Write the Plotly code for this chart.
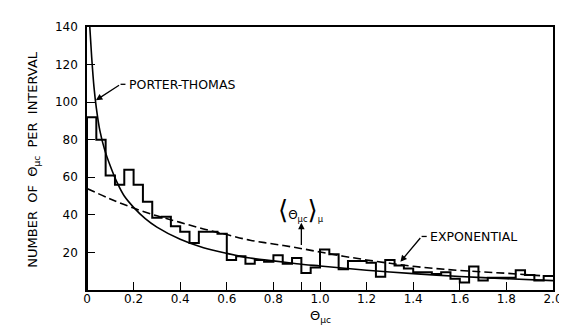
import plotly.graph_objects as go

# ---- data ----
bin_width = 0.04
counts = [92, 80, 61, 56, 64, 56, 47, 38.5, 39, 34,
          31, 25, 31, 31, 30, 16, 18, 14, 16, 15,
          18.5, 14, 17, 9, 12, 21.5, 19, 11, 15.5, 15.5,
          14.5, 7, 16, 13, 11.5, 9.5, 9.5, 8.5, 9.5, 6,
          4, 12.5, 5, 6.5, 6.5, 6.5, 10.5, 8, 5, 7.5]

pt_x = [0.012, 0.02, 0.03, 0.04, 0.055, 0.075, 0.1, 0.13, 0.16, 0.2, 0.25, 0.3,
        0.4, 0.5, 0.6, 0.7, 0.8, 0.9, 1.0, 1.2, 1.4, 1.6, 1.8, 2.0]
pt_y = [140, 124, 108, 97, 85, 75, 66, 57, 50, 44, 38, 33.5,
        27, 22.5, 19.5, 17, 15.5, 14, 12.8, 10.5, 8.7, 7.2, 6, 5]

exp_x = [0, 0.1, 0.2, 0.3, 0.4, 0.5, 0.6, 0.7, 0.8, 0.9, 1.0, 1.1, 1.2, 1.3,
         1.4, 1.5, 1.6, 1.7, 1.8, 1.9, 2.0]
exp_y = [54, 48.5, 43.6, 39.5, 36, 32.5, 29.5, 26.5, 24.5, 22.5, 20.2, 18, 16, 14.2,
         12.6, 11.4, 10.4, 9.6, 8.9, 8, 7.3]

mean_theta = 0.92
x_tick_vals = [0, 0.2, 0.4, 0.6, 0.8, 1.0, 1.2, 1.4, 1.6, 1.8, 2.0]
x_tick_text = ["0", "0.2", "0.4", "0.6", "0.8", "1.0", "1.2", "1.4", "1.6", "1.8", "2.0"]
y_tick_vals = [20, 40, 60, 80, 100, 120, 140]

# ---- build step outline ----
edges = [round(i * bin_width, 4) for i in range(len(counts) + 1)]
hx = [0] + edges[:-1] + [edges[-1]]
hy = [0] + counts + [counts[-1]]

FONT = "DejaVu Sans"
fig = go.Figure()
fig.add_trace(go.Scatter(x=hx, y=hy, mode="lines", line=dict(color="black", width=2, shape="hv"),
                         hoverinfo="skip"))
fig.add_trace(go.Scatter(x=pt_x, y=pt_y, mode="lines",
                         line=dict(color="black", width=1.6, shape="spline", smoothing=0.8)))
fig.add_trace(go.Scatter(x=exp_x, y=exp_y, mode="lines",
                         line=dict(color="black", width=1.6, dash="8px,4px", shape="spline")))

fig.update_layout(
    width=567, height=329, showlegend=False,
    paper_bgcolor="white", plot_bgcolor="white",
    margin=dict(l=79, r=13, t=15, b=47),
    font=dict(family=FONT, size=12, color="black"),
    xaxis=dict(range=[0, 2.0], showline=True, linecolor="black", linewidth=1.5, mirror=True,
               ticks="inside", ticklen=8, tickwidth=1.3, tickcolor="black",
               tickvals=x_tick_vals + [mean_theta], ticktext=x_tick_text + [""],
               showgrid=False, zeroline=False, tickfont=dict(size=12), ticklabelstandoff=-3),
    yaxis=dict(range=[0, 140], showline=True, linecolor="black", linewidth=1.5, mirror=True,
               ticks="inside", ticklen=8, tickwidth=1.3, tickcolor="black",
               tickvals=y_tick_vals, showgrid=False, zeroline=False,
               tickfont=dict(size=12), ticklabelstandoff=5),
)

# axis titles
fig.add_annotation(xref="paper", yref="paper", x=-0.114, y=0.495, textangle=-90,
                   text="NUMBER\u00a0 OF\u00a0 Θ<sub>μc</sub>\u00a0 PER\u00a0 INTERVAL",
                   showarrow=False, font=dict(size=13), xanchor="center", yanchor="middle")
fig.add_annotation(xref="paper", yref="paper", x=0.5, y=-0.1,
                   text="Θ<sub>μc</sub>", showarrow=False, font=dict(size=13),
                   xanchor="center", yanchor="middle")

# PORTER-THOMAS label
fig.add_annotation(x=0.173, y=109.5, text="PORTER-THOMAS", showarrow=False,
                   xanchor="left", yanchor="middle", font=dict(size=12.5))
fig.add_shape(type="line", x0=0.144, y0=109.5, x1=0.165, y1=109.5,
              line=dict(color="black", width=1.3))
fig.add_annotation(x=0.038, y=101, ax=0.144, ay=109.5, axref="x", ayref="y", text="",
                   showarrow=True, arrowhead=2, arrowsize=1, arrowwidth=1.3, arrowcolor="black")

# EXPONENTIAL label
fig.add_annotation(x=1.465, y=28.5, text="EXPONENTIAL", showarrow=False,
                   xanchor="left", yanchor="middle", font=dict(size=12.5))
fig.add_shape(type="line", x0=1.436, y0=28.5, x1=1.458, y1=28.5,
              line=dict(color="black", width=1.3))
fig.add_annotation(x=1.345, y=15, ax=1.436, ay=28.5, axref="x", ayref="y", text="",
                   showarrow=True, arrowhead=2, arrowsize=1, arrowwidth=1.3, arrowcolor="black")

# mean label
fig.add_annotation(x=mean_theta, y=42.6,
                   text='<span style="font-size:26px">⟨</span>Θ<sub>μc</sub>'
                        '<span style="font-size:26px">⟩</span><sub>μ</sub>',
                   showarrow=False, xanchor="center", yanchor="middle", font=dict(size=12))
fig.add_annotation(x=mean_theta, y=35.8, ax=mean_theta, ay=23.2, axref="x", ayref="y", text="",
                   showarrow=True, arrowhead=2, arrowsize=1, arrowwidth=1.3, arrowcolor="black")

fig.write_html("out.html")
